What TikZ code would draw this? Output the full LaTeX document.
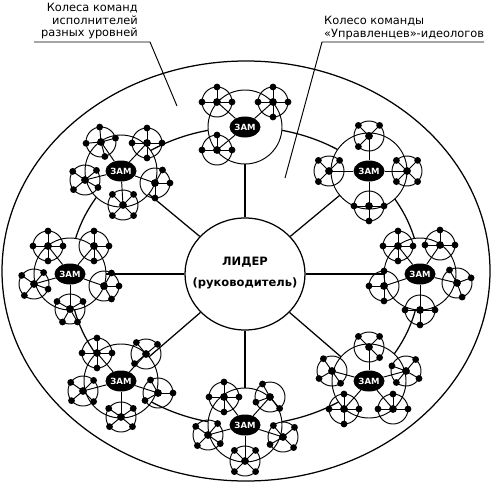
\documentclass[tikz,border=0pt]{standalone}
\usepackage{fontspec}
\setmainfont{DejaVu Sans}
\usetikzlibrary{shapes.geometric}
\newcommand{\zamfont}{\fontsize{8.5}{9}\selectfont\bfseries}
\tikzset{
  ln/.style={line width=0.95pt},
  bigln/.style={line width=1.25pt},
  dot/.style={circle,fill=black,inner sep=0pt,minimum size=6.8pt},
  hub/.style={circle,fill=black,inner sep=0pt,minimum size=7.8pt},
  zamnode/.style={ellipse,fill=black,minimum width=31pt,minimum height=21pt,inner sep=0pt,text=white,font=\zamfont},
  lbl/.style={font=\fontsize{11.4}{12.5}\selectfont,inner sep=0pt},
}
\newcommand{\zamunit}[5]{%
  \begin{scope}[shift={(#2,#3)}]
    \fill[white] (0,0) circle (#4);
    \draw[ln] (0,0) circle (#4);
    \node[zamnode] (#1) at (0,0) {ЗАМ};
    \foreach \dx/\dy/\angs [count=\i] in {#5} {
      \coordinate (#1-h\i) at (\dx,\dy);
      \draw[ln] (#1) -- (#1-h\i);
      \draw[ln] (#1-h\i) circle (15);
      \foreach \a in \angs { \draw[ln] (#1-h\i) -- ++(\a:15) node[dot]{}; }
      \node[hub] at (#1-h\i) {};
    }
  \end{scope}
}
\begin{document}
\begin{tikzpicture}[x=1pt,y=-1pt]
\useasboundingbox (0,0) rectangle (492,484);
% outer wheel
\draw[bigln] (246,271) ellipse [x radius=244, y radius=210];
% labels
\node[lbl,align=right,anchor=north east] (t1) at (138,3) {Колеса команд\\исполнителей\\разных уровней};
\node[lbl,align=left,anchor=north west] (t2) at (324,16) {Колесо команды\\«Управленцев»-идеологов};
\coordinate (a1) at (34,42); \coordinate (a2) at (150,42); \coordinate (a3) at (177,106);
\coordinate (b1) at (484,42); \coordinate (b2) at (322,42); \coordinate (b3) at (285,178);
\draw[ln] (a1) -- (a2) -- (a3);
\draw[ln] (b1) -- (b2) -- (b3);
% team wheel rim
\draw[bigln] (245,276) ellipse [x radius=175, y radius=149];
% zam centres
\coordinate (c1) at (245,127);
\coordinate (c2) at (121,171);
\coordinate (c3) at (70,274);
\coordinate (c4) at (121,381);
\coordinate (c5) at (245,425);
\coordinate (c6) at (369,381);
\coordinate (c7) at (420,274);
\coordinate (c8) at (369,171);
\node[ellipse,draw,bigln,fill=white,minimum width=120pt,minimum height=112pt,inner sep=0pt] (L) at (245,274) {};
\node[align=center,inner sep=0pt,font=\fontsize{11.5}{21}\selectfont\bfseries] (Lt) at (245,273) {ЛИДЕР\\(руководитель)};
\foreach \k in {1,...,8} { \draw[bigln] (L) -- (c\k); }
% zam units
\zamunit{z1}{245}{127}{37}{-28/-25/{270,180,0}, 28/-25/{270,180,0,90}, -28/23/{270,180,0}}
\zamunit{z2}{121}{171}{36}{-20/-29/{265,175,345,75}, 26/-28/{270,180,0,90}, -36/9/{215,140,320,30}, 2/34/{225,315,135,45}, 34/12/{0,90,300}}
\zamunit{z3}{70}{274}{36}{-22/-28/{270,180,0,90}, 24/-28/{270,0,90}, -36/10/{215,310,130,20}, 0/35/{210,330,120,60}, 34/12/{0,300,60}}
\zamunit{z4}{121}{381}{37}{-24/-28/{270,180,0,90}, 25/-27/{230,320,140}, -38/10/{215,315,140,45}, 37/12/{240,150,0}, 0/36/{215,325,140,40}}
\zamunit{z5}{245}{425}{37}{-21/-28/{270,180,0,90}, 25/-28/{240,160,50}, -37/10/{215,310,135,35}, 38/12/{230,320,150,45}, 0/36/{225,315,135,45}}
\zamunit{z6}{369}{381}{37}{0/-34/{225,315,45}, -37/-10/{235,150,55}, 37/-10/{200,310,130,30}, -25/28/{270,180,0,90}, 24/28/{270,0,180}}
\zamunit{z7}{420}{274}{36}{20/-29/{270,180,0}, 37/9/{240,340,70}, -22/-28/{270,180,0,90}, 0/36/{180,0,90}, -36/12/{180,90,270}}
\zamunit{z8}{369}{171}{38}{0/-35/{225,315,135}, -40/0/{225,315,135}, 38/0/{225,315,135,45}, 0/35/{180,0,90}}
\end{tikzpicture}
\end{document}
